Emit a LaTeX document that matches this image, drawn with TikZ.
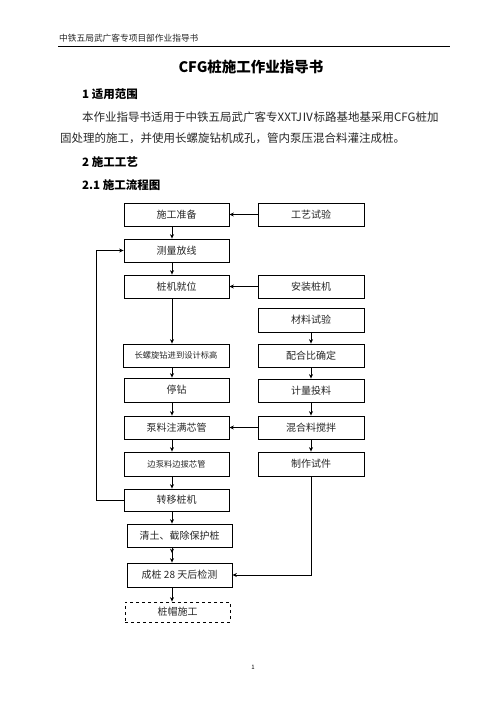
\documentclass[tikz,border=0pt]{standalone}
\usepackage{fontspec}
\setmainfont{Noto Sans CJK SC}
\usetikzlibrary{arrows.meta}
\begin{document}
\begin{tikzpicture}[x=1pt,y=-1pt,
  box/.style={draw,line width=0.8pt,minimum width=105pt,minimum height=23pt,inner sep=0pt,font=\fontsize{10}{12}\selectfont,text=black!85},
  dbox/.style={box,dashed},
  arr/.style={line width=0.8pt,-{Stealth[length=4.5pt,width=4pt]}},
  darr/.style={line width=0.8pt,-{Stealth[length=4.5pt,width=4pt,sep=5pt]Stealth[length=4.5pt,width=4pt]}},
  txt/.style={inner sep=0pt,anchor=west,text=black!85},
]
\useasboundingbox (0,0) rectangle (496,702);
% header
\node[txt,font=\fontsize{8.7}{10}\selectfont] (hdr) at (59,38) {中铁五局武广客专项目部作业指导书};
\draw[line width=0.9pt] (58,46) -- (450,46);
\node[inner sep=0pt,font=\fontsize{14.5}{16}\selectfont\bfseries] (title) at (251,67) {CFG桩施工作业指导书};
\node[txt,font=\fontsize{11.5}{13}\selectfont\bfseries,text=black] (s1) at (82,94) {1\ 适用范围};
\node[txt,font=\fontsize{11.5}{13}\selectfont] (p1) at (82,117) {本作业指导书适用于中铁五局武广客专XXTJⅣ标路基地基采用CFG桩加};
\node[txt,font=\fontsize{11.5}{13}\selectfont] (p2) at (60,138) {固处理的施工，并使用长螺旋钻机成孔，管内泵压混合料灌注成桩。};
\node[txt,font=\fontsize{11.5}{13}\selectfont\bfseries,text=black] (s2) at (82,162) {2\ 施工工艺};
\node[txt,font=\fontsize{11.5}{13}\selectfont\bfseries,text=black] (s21) at (82,185) {2.1\ 施工流程图};
% left column
\node[box] (A) at (176.5,214.5) {施工准备};
\node[box] (B) at (176.5,250.5) {测量放线};
\node[box] (C) at (176.5,286.5) {桩机就位};
\node[box,minimum width=106pt,font=\fontsize{8.3}{10}\selectfont] (D) at (176,355.5) {长螺旋钻进到设计标高};
\node[box,minimum height=24pt] (E) at (176.5,390) {停钻};
\node[box] (F) at (176.5,427.5) {泵料注满芯管};
\node[box,minimum height=24pt,font=\fontsize{8.3}{10}\selectfont] (G) at (176.5,464) {边泵料边拔芯管};
\node[box,minimum height=22pt] (H) at (176.5,500) {转移桩机};
\node[box] (I) at (179.5,535.5) {清土、截除保护桩};
\node[box,minimum height=24pt] (J) at (179.5,575) {成桩 28 天后检测};
\node[dbox,minimum height=20pt] (K) at (177.5,612) {桩帽施工};
% right column
\node[box,minimum width=106pt] (R1) at (311,214.5) {工艺试验};
\node[box,minimum width=106pt] (R2) at (311,286.5) {安装桩机};
\node[box,minimum width=106pt,minimum height=24pt] (R3) at (311,320) {材料试验};
\node[box,minimum width=106pt] (R4) at (311,355.5) {配合比确定};
\node[box,minimum width=106pt] (R5) at (311,390.5) {计量投料};
\node[box,minimum width=106pt] (R6) at (311,427.5) {混合料搅拌};
\node[box,minimum width=106pt,minimum height=24pt] (R7) at (311,464) {制作试件};
% page number
\node[inner sep=0pt,font=\fontsize{6}{7}\selectfont] (pg) at (253,667) {1};
% connectors
\coordinate (X) at (172,0);
\draw[arr] (A.south -| X) -- (B.north -| X);
\draw[arr] (B.south -| X) -- (C.north -| X);
\draw[arr] (C.south -| X) -- (D.north -| X);
\draw[arr] (D.south -| X) -- (E.north -| X);
\draw[arr] (E.south -| X) -- (F.north -| X);
\draw[arr] (F.south -| X) -- (G.north -| X);
\draw[arr] (G.south -| X) -- (H.north -| X);
\draw[arr] (H.south -| X) -- (I.north -| X);
\draw[darr] (I.south -| X) -- (J.north -| X);
\draw[arr] (J.south -| X) -- (K.north -| X);
\draw[arr] (R1.west) -- (A.east);
\draw[arr] (R2.west) -- (C.east);
\draw[arr] (R6.west) -- (F.east);
\draw[arr] (R3.south) -- (R4.north);
\draw[arr] (R4.south) -- (R5.north);
\draw[arr] (R5.south) -- (R6.north);
\draw[arr] (R6.south) -- (R7.north);
\draw[arr] (R7.south) |- (J.east);
\draw[arr] (H.west) -- ++(-27,0) |- (B.west);
\end{tikzpicture}
\end{document}
